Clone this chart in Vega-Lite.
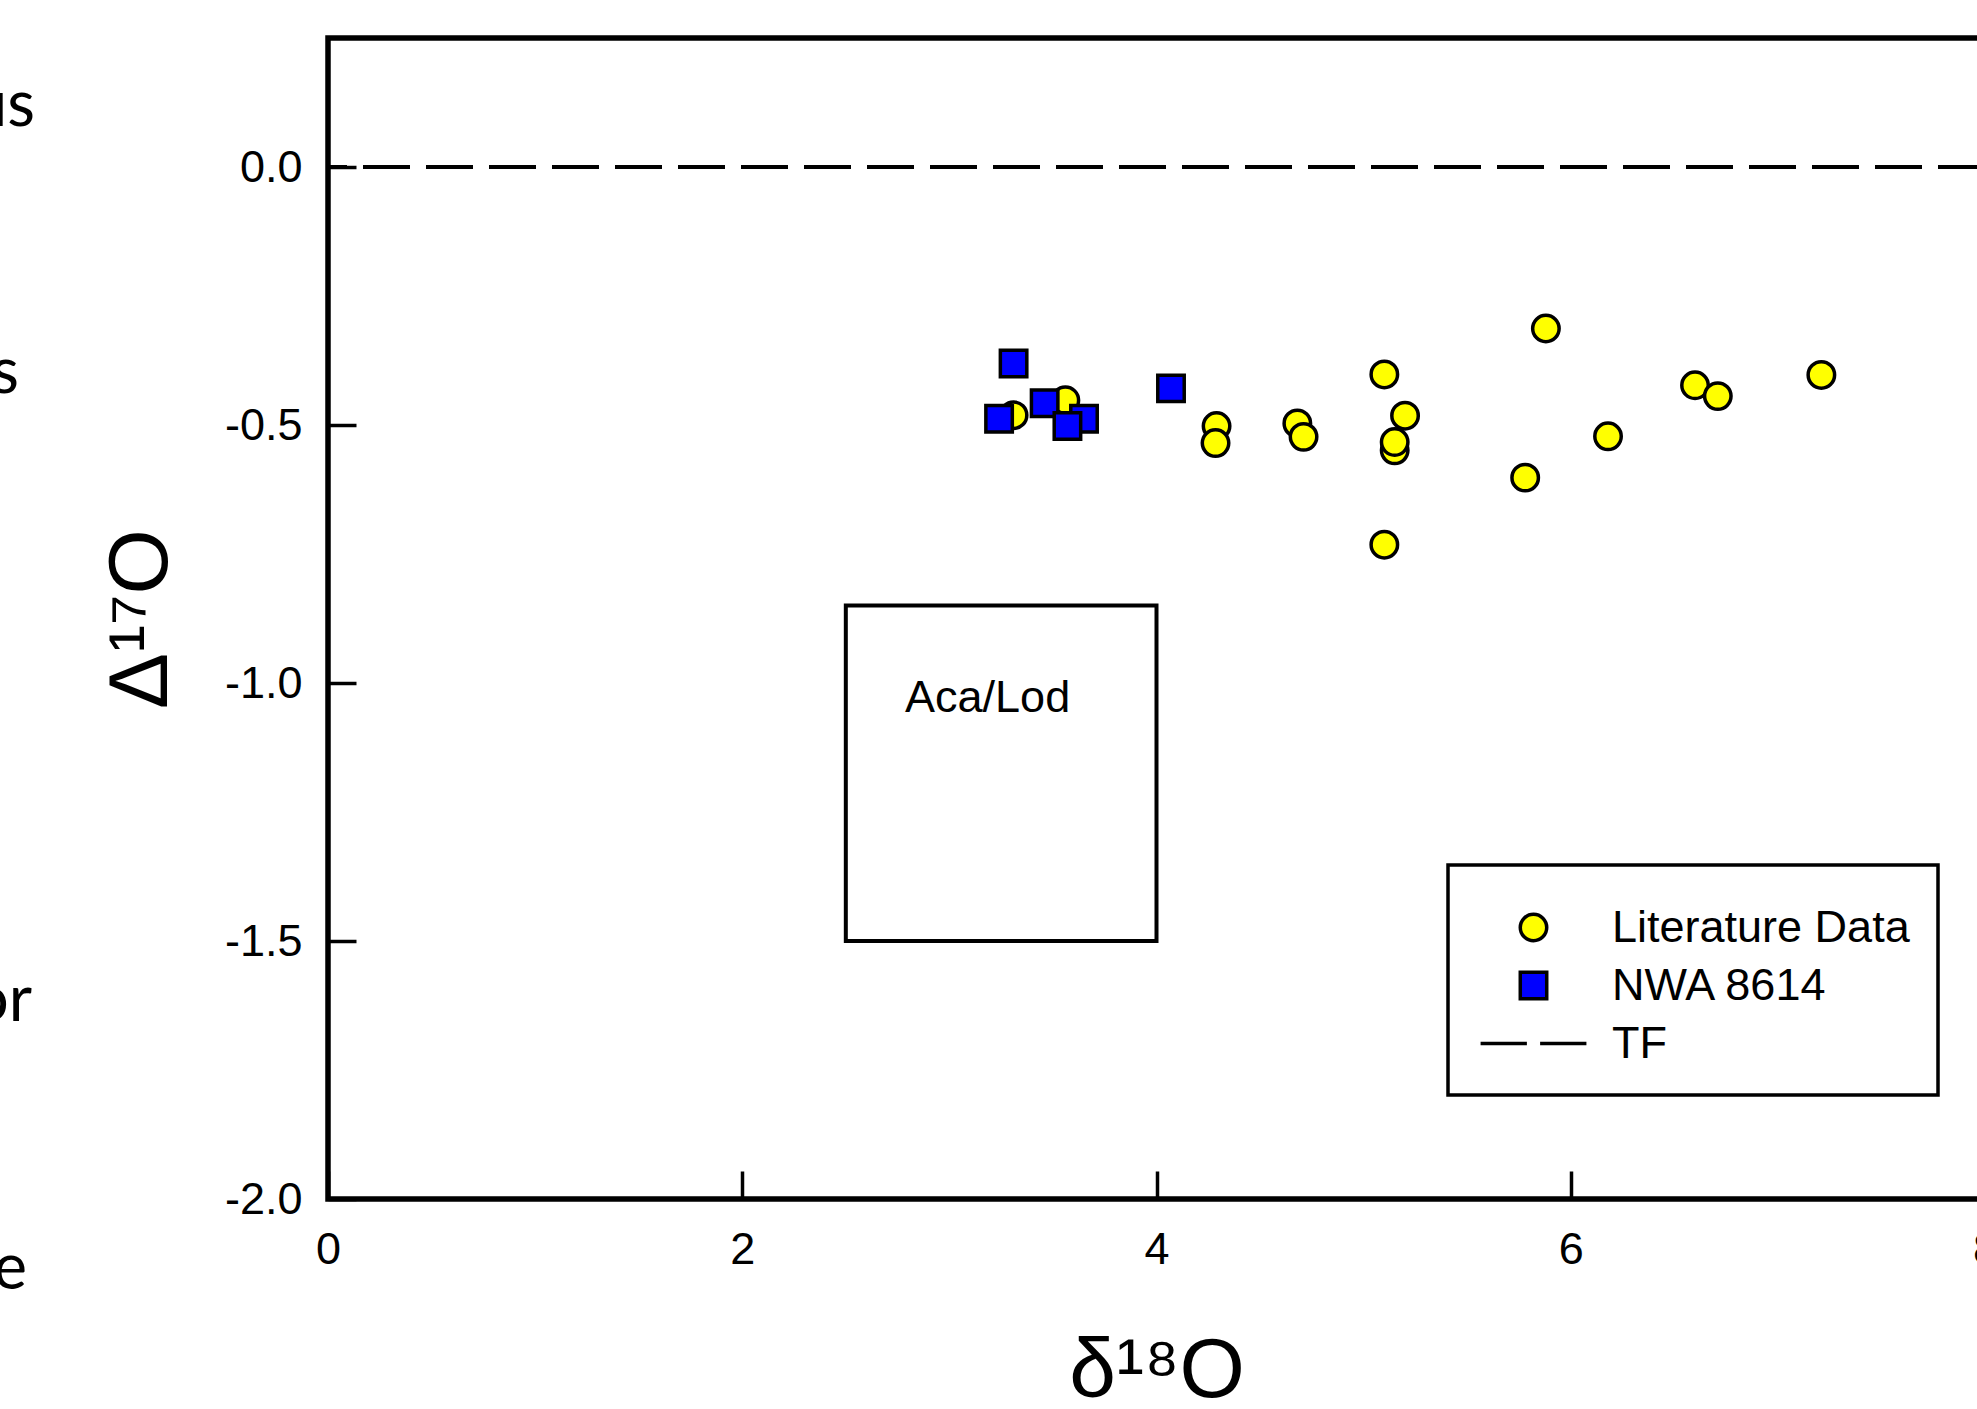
{
  "$schema": "https://vega.github.io/schema/vega-lite/v6.json",
  "width": 1657,
  "height": 1161,
  "autosize": {"type": "none"},
  "padding": {"left": 328, "top": 38, "right": -8, "bottom": 210},
  "background": "white",
  "config": {
    "view": {"stroke": "black", "strokeWidth": 5.5},
    "axis": {
      "domain": false,
      "grid": false,
      "ticks": true,
      "tickColor": "black",
      "tickWidth": 3.5,
      "tickSize": -28,
      "labelFlush": false,
      "labelFont": "Liberation Sans",
      "labelFontSize": 45,
      "labelColor": "black",
      "titleFont": "Liberation Sans",
      "titleFontWeight": "normal",
      "titleColor": "black",
      "titleFontSize": 84
    }
  },
  "datasets": {
    "oxygen": [
      {"series": "Literature Data", "d18O": 3.31, "D17O": -0.481},
      {"series": "Literature Data", "d18O": 3.56, "D17O": -0.452},
      {"series": "Literature Data", "d18O": 4.29, "D17O": -0.502},
      {"series": "Literature Data", "d18O": 4.285, "D17O": -0.535},
      {"series": "Literature Data", "d18O": 4.68, "D17O": -0.497},
      {"series": "Literature Data", "d18O": 4.71, "D17O": -0.523},
      {"series": "Literature Data", "d18O": 5.10, "D17O": -0.402},
      {"series": "Literature Data", "d18O": 5.15, "D17O": -0.549},
      {"series": "Literature Data", "d18O": 5.15, "D17O": -0.533},
      {"series": "Literature Data", "d18O": 5.20, "D17O": -0.482},
      {"series": "Literature Data", "d18O": 5.10, "D17O": -0.732},
      {"series": "Literature Data", "d18O": 5.78, "D17O": -0.602},
      {"series": "Literature Data", "d18O": 5.88, "D17O": -0.313},
      {"series": "Literature Data", "d18O": 6.18, "D17O": -0.522},
      {"series": "Literature Data", "d18O": 6.60, "D17O": -0.423},
      {"series": "Literature Data", "d18O": 6.71, "D17O": -0.444},
      {"series": "Literature Data", "d18O": 7.21, "D17O": -0.403},
      {"series": "NWA 8614", "d18O": 3.31, "D17O": -0.381},
      {"series": "NWA 8614", "d18O": 3.24, "D17O": -0.488},
      {"series": "NWA 8614", "d18O": 3.46, "D17O": -0.458},
      {"series": "NWA 8614", "d18O": 3.65, "D17O": -0.488},
      {"series": "NWA 8614", "d18O": 3.57, "D17O": -0.502},
      {"series": "NWA 8614", "d18O": 4.07, "D17O": -0.429}
    ],
    "fields": [
      {"group": "Aca/Lod", "x1": 2.5, "x2": 4.0, "y1": -0.85, "y2": -1.5, "lx": 2.786, "ly": -1.056}
    ],
    "tf": [
      {"series": "TF", "D17O": 0}
    ],
    "fragments": [
      {"frag": "us", "fx": -1.415, "fy": 0.080},
      {"frag": "s", "fx": -1.492, "fy": -0.4385},
      {"frag": "or", "fx": -1.429, "fy": -1.655},
      {"frag": "e", "fx": -1.453, "fy": -2.175}
    ]
  },
  "layer": [
    {
      "data": {"name": "fields"},
      "mark": {"type": "rect", "fill": "white", "fillOpacity": 0, "stroke": "black", "strokeWidth": 4},
      "encoding": {
        "x": {
          "field": "x1", "type": "quantitative", "title": "δ¹⁸O",
          "scale": {"domain": [0, 8], "nice": false, "zero": false},
          "axis": {"values": [0, 2, 4, 6, 8], "format": "d", "labelPadding": 56, "titlePadding": 58}
        },
        "x2": {"field": "x2"},
        "y": {
          "field": "y1", "type": "quantitative", "title": "Δ¹⁷O",
          "scale": {"domain": [-2, 0.25], "nice": false, "zero": false},
          "axis": {"values": [-2, -1.5, -1, -0.5, 0], "format": ".1f", "labelExpr": "replace(datum.label, '−', '-')", "labelPadding": 54, "titlePadding": 40}
        },
        "y2": {"field": "y2"}
      }
    },
    {
      "data": {"name": "fields"},
      "mark": {"type": "text", "align": "left", "baseline": "alphabetic", "font": "Liberation Sans", "fontSize": 45, "color": "black"},
      "encoding": {
        "x": {"field": "lx", "type": "quantitative", "title": "δ¹⁸O", "scale": {"domain": [0, 8], "nice": false, "zero": false}},
        "y": {"field": "ly", "type": "quantitative", "title": "Δ¹⁷O", "scale": {"domain": [-2, 0.25], "nice": false, "zero": false}},
        "text": {"field": "group"}
      }
    },
    {
      "data": {"name": "tf"},
      "mark": {"type": "rule", "color": "black", "strokeWidth": 4, "strokeDash": [47, 16]},
      "encoding": {
        "y": {"field": "D17O", "type": "quantitative", "title": "Δ¹⁷O", "scale": {"domain": [-2, 0.25], "nice": false, "zero": false}}
      }
    },
    {
      "data": {"name": "oxygen"},
      "mark": {"type": "point", "filled": true, "size": 700, "stroke": "black", "strokeWidth": 3.5, "opacity": 1},
      "encoding": {
        "x": {"field": "d18O", "type": "quantitative", "title": "δ¹⁸O", "scale": {"domain": [0, 8], "nice": false, "zero": false}},
        "y": {"field": "D17O", "type": "quantitative", "title": "Δ¹⁷O", "scale": {"domain": [-2, 0.25], "nice": false, "zero": false}},
        "fill": {
          "field": "series", "type": "nominal",
          "scale": {"domain": ["Literature Data", "NWA 8614", "TF"], "range": ["#ffff00", "#0000ff", "black"]},
          "legend": {"orient": "none", "legendX": 1120, "legendY": 827, "title": " ", "titleFontSize": 1, "titlePadding": 11, "padding": 28, "strokeColor": "black", "fillColor": "white", "cornerRadius": 0, "labelFont": "Liberation Sans", "labelFontSize": 45, "labelColor": "black", "labelLimit": 0, "labelOffset": 56, "symbolOffset": 35, "rowPadding": 12, "symbolSize": 700, "symbolStrokeColor": "black", "symbolStrokeWidth": 3.5, "symbolOpacity": 1, "encode": {"legend": {"update": {"strokeWidth": {"value": 3.5}}}}}
        },
        "shape": {
          "field": "series", "type": "nominal",
          "scale": {"domain": ["Literature Data", "NWA 8614", "TF"], "range": ["circle", "square", "M-4,0H-0.5M0.5,0H4"]},
          "legend": {"orient": "none", "legendX": 1120, "legendY": 827, "title": " ", "titleFontSize": 1, "titlePadding": 11, "padding": 28, "strokeColor": "black", "fillColor": "white", "cornerRadius": 0, "labelFont": "Liberation Sans", "labelFontSize": 45, "labelColor": "black", "labelLimit": 0, "labelOffset": 56, "symbolOffset": 35, "rowPadding": 12, "symbolSize": 700, "symbolStrokeColor": "black", "symbolStrokeWidth": 3.5, "symbolOpacity": 1, "encode": {"legend": {"update": {"strokeWidth": {"value": 3.5}}}}}
        }
      }
    },
    {
      "data": {"name": "fragments"},
      "mark": {"type": "text", "align": "right", "baseline": "alphabetic", "font": "Lato", "fontSize": 64, "color": "black"},
      "encoding": {
        "x": {"field": "fx", "type": "quantitative", "title": "δ¹⁸O", "scale": {"domain": [0, 8], "nice": false, "zero": false}},
        "y": {"field": "fy", "type": "quantitative", "title": "Δ¹⁷O", "scale": {"domain": [-2, 0.25], "nice": false, "zero": false}},
        "text": {"field": "frag"}
      }
    }
  ]
}
